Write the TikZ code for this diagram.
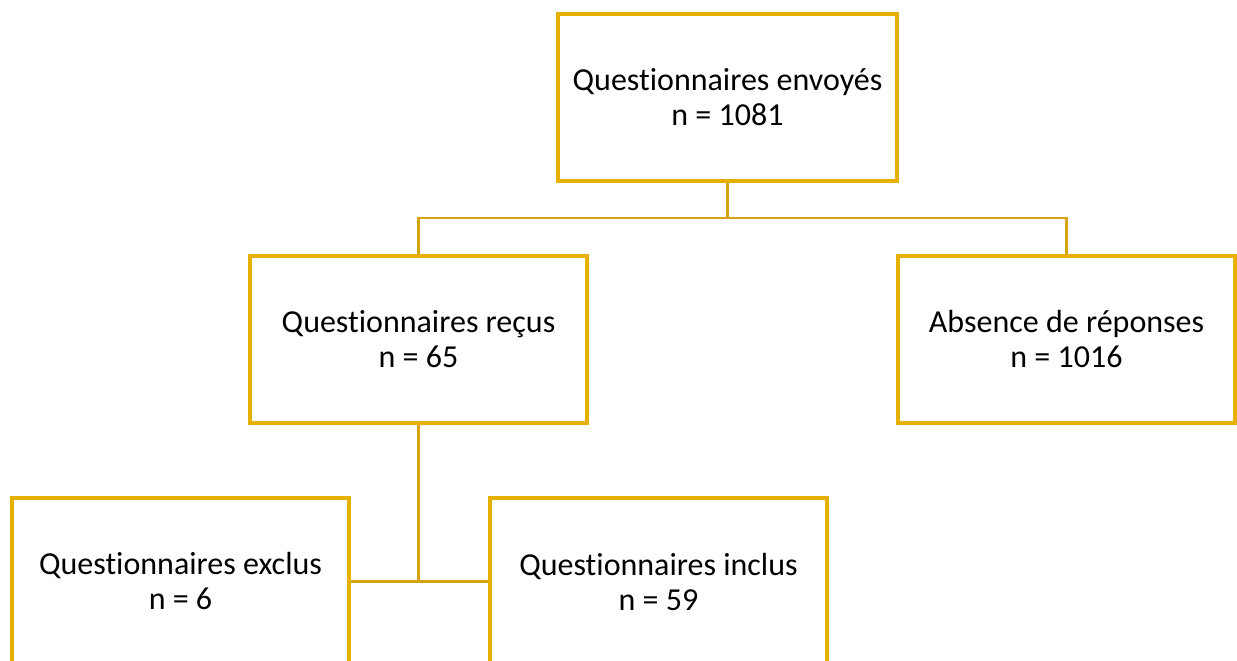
\documentclass[tikz,border=0pt]{standalone}
\usepackage{fontspec}
\setmainfont{Carlito}[Ligatures={NoCommon}]
\definecolor{boxgold}{RGB}{230,176,0}
\definecolor{linegold}{RGB}{214,164,18}
\tikzset{
  box/.style={draw=boxgold, line width=4pt, fill=white, inner sep=0pt, align=center,
    font=\fontsize{32}{35}\selectfont, text=black},
  conn/.style={draw=linegold, line width=2.2pt}
}
\begin{document}
\begin{tikzpicture}[x=1pt,y=-1pt]
\useasboundingbox (0,0) rectangle (1237,661);
\clip (0,0) rectangle (1237,661);
\node[box, minimum width=339pt, minimum height=167pt] (top) at (727.5,97.5) {Questionnaires envoyés\\n = 1081};
\node[box, minimum width=337pt, minimum height=167pt] (recus) at (418.5,339.5) {Questionnaires reçus\\n = 65};
\node[box, minimum width=337pt, minimum height=167pt] (absence) at (1066.5,339.5) {Absence de réponses\\n = 1016};
\node[box, minimum width=337pt, minimum height=167pt] (exclus) at (180.5,581.5) {Questionnaires exclus\\n = 6};
\node[box, minimum width=337pt, minimum height=167pt] (inclus) at (658.5,581.5) {Questionnaires inclus\\n = 59};
\coordinate (j1) at (727.5,218);
\draw[conn] (top.south) -- (j1);
\draw[conn] (recus.north) |- (j1) -| (absence.north);
\draw[conn] (recus.south) -- (recus.south |- exclus.east);
\draw[conn] (exclus.east) -- (inclus.west);
\end{tikzpicture}
\end{document}
